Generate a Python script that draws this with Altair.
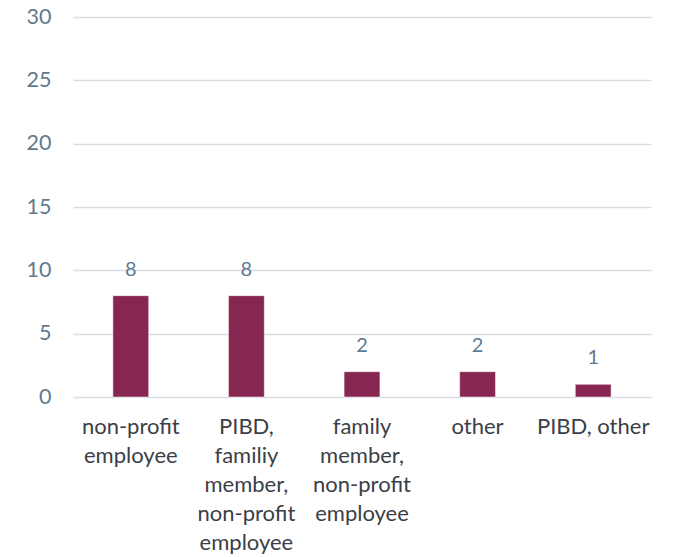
import altair as alt
import pandas as pd

categories = ["non-profit|employee", "PIBD,|familiy|member,|non-profit|employee",
              "family|member,|non-profit|employee", "other", "PIBD, other"]
values = [8, 8, 2, 2, 1]

df = pd.DataFrame({"cat": categories, "val": values})

base = alt.Chart(df).encode(
    x=alt.X("cat:N", sort=categories, title=None,
            scale=alt.Scale(paddingInner=0.69, paddingOuter=0.345),
            axis=alt.Axis(labelExpr="split(datum.label, '|')", labelAngle=0,
                          labelFont="Lato", labelFontSize=22, labelColor="#3B4047",
                          labelLineHeight=29, labelPadding=36, labelBaseline="alphabetic",
                          domain=False, ticks=False, grid=False)),
)

bars = base.mark_bar(color="#872650", stroke="#ffffff", strokeWidth=0.5).encode(
    y=alt.Y("val:Q", title=None,
            scale=alt.Scale(domain=[0, 30], nice=False),
            axis=alt.Axis(values=[0, 5, 10, 15, 20, 25, 30], labelFont="Lato",
                          labelFontSize=21.5, labelColor="#5F7A8E", labelPadding=22,
                          domain=False, ticks=False, gridColor="#D9DDE2", gridWidth=1.5)),
)

text = base.mark_text(dy=-26, font="Lato", fontSize=20, color="#5F7A8E").encode(
    y=alt.Y("val:Q"),
    text=alt.Text("val:Q"),
)

chart = (bars + text).properties(
    width=578, height=380,
    padding={"left": 65, "top": 9, "right": 15, "bottom": 160},
    autosize=alt.AutoSizeParams(type="none"),
).configure_view(stroke=None)

chart.save("out.html", embed_options={"renderer": "svg", "actions": False})
